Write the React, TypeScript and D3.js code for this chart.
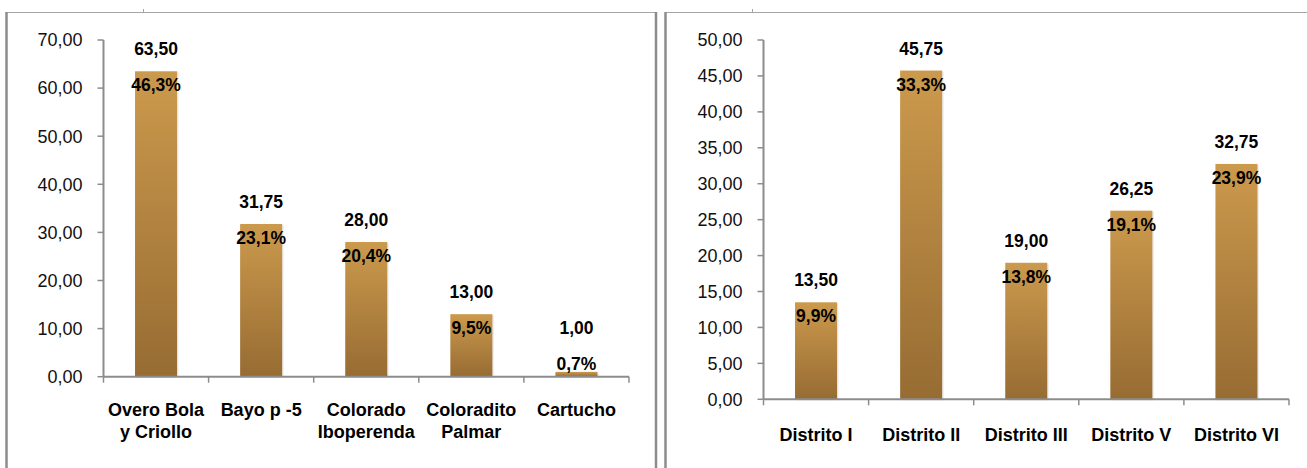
import React from 'react';
import * as d3 from 'd3';

// Left chart: varieties
const varieties = ['Overo Bola\ny Criollo', 'Bayo p -5', 'Colorado\nIboperenda', 'Coloradito\nPalmar', 'Cartucho'];
const varietyValues = [63.5, 31.75, 28.0, 13.0, 1.0];
const varietyShares = [46.3, 23.1, 20.4, 9.5, 0.7];
const varietyTicks = [0, 10, 20, 30, 40, 50, 60, 70];

// Right chart: districts
const districts = ['Distrito I', 'Distrito II', 'Distrito III', 'Distrito V', 'Distrito VI'];
const districtValues = [13.5, 45.75, 19.0, 26.25, 32.75];
const districtShares = [9.9, 33.3, 13.8, 19.1, 23.9];
const districtTicks = [0, 5, 10, 15, 20, 25, 30, 35, 40, 45, 50];

const fmt2 = (v: number) => v.toFixed(2).replace('.', ',');
const fmt1 = (v: number) => v.toFixed(1).replace('.', ',') + '%';

const AXIS = '#8c8c8c';
const FONT = '"Liberation Sans", Arial, sans-serif';

interface PanelProps {
  cats: string[];
  values: number[];
  shares: number[];
  ticks: number[];
  x0: number;
  x1: number;
  y0: number;
  y1: number;
  labelY: number;
}

const Panel: React.FC<PanelProps> = ({ cats, values, shares, ticks, x0, x1, y0, y1, labelY }) => {
  const x = d3.scaleBand<string>().domain(cats).range([x0, x1]);
  const y = d3.scaleLinear().domain([0, d3.max(ticks) || 0]).range([y0, y1]);
  const barW = x.step() * 0.4;

  return (
    <g>
      {/* bars */}
      {cats.map((c, i) => {
        const cx = (x(c) || 0) + x.bandwidth() / 2;
        const top = y(values[i]);
        const pctY = Math.min(top + 20, y0 - 7);
        return (
          <g key={c}>
            <rect x={cx - barW / 2 + 1.5} y={top + 1} width={barW} height={y0 - top} fill="#000" opacity={0.08} />
            <rect x={cx - barW / 2} y={top} width={barW} height={y0 - top} fill="url(#barGrad)" />
            <text x={cx} y={pctY - 36} textAnchor="middle" fontFamily={FONT} fontWeight="bold" fontSize={17.5} fill="#000">
              {fmt2(values[i])}
            </text>
            <text x={cx} y={pctY} textAnchor="middle" fontFamily={FONT} fontWeight="bold" fontSize={17.5} fill="#000">
              {fmt1(shares[i])}
            </text>
          </g>
        );
      })}

      {/* y axis */}
      <line x1={x0} x2={x0} y1={y1} y2={y0} stroke={AXIS} strokeWidth={2} />
      {ticks.map(t => (
        <g key={t}>
          <line x1={x0 - 6} x2={x0} y1={y(t)} y2={y(t)} stroke={AXIS} strokeWidth={1.5} />
          <text x={x0 - 21} y={y(t)} dy="0.35em" textAnchor="end" fontFamily={FONT} fontSize={18} fill="#111">
            {fmt2(t)}
          </text>
        </g>
      ))}

      {/* x axis */}
      <line x1={x0} x2={x1} y1={y0} y2={y0} stroke={AXIS} strokeWidth={2} />
      {[...cats.map(c => x(c) || 0), x1].map((t, i) => (
        <line key={i} x1={t} x2={t} y1={y0} y2={y0 + 6} stroke={AXIS} strokeWidth={1.5} />
      ))}
      {cats.map(c => {
        const cx = (x(c) || 0) + x.bandwidth() / 2;
        return (
          <text key={c} x={cx} y={labelY} textAnchor="middle" fontFamily={FONT} fontWeight="bold" fontSize={18} fill="#000">
            {c.split('\n').map((line, j) => (
              <tspan key={j} x={cx} dy={j === 0 ? 0 : 22}>{line}</tspan>
            ))}
          </text>
        );
      })}
    </g>
  );
};

export default function App() {
  const width = 1307;
  const height = 468;
  return (
    <div style={{ position: 'absolute', left: 0, top: 0 }}>
      <svg width={width} height={height} style={{ display: 'block', background: '#fff' }}>
        <defs>
          <linearGradient id="barGrad" x1="0" y1="0" x2="0" y2="1">
            <stop offset="0%" stopColor="#cc9a4d" />
            <stop offset="100%" stopColor="#976c33" />
          </linearGradient>
        </defs>

        {/* frame lines */}
        <line x1={6} x2={656} y1={12.5} y2={12.5} stroke="#a6a6a6" strokeWidth={1} />
        <line x1={665} x2={width} y1={12.5} y2={12.5} stroke="#a6a6a6" strokeWidth={1} />
        <line x1={143.5} x2={143.5} y1={9} y2={12} stroke="#a6a6a6" strokeWidth={1} />
        <line x1={752.5} x2={752.5} y1={9} y2={12} stroke="#a6a6a6" strokeWidth={1} />
        <line x1={6.5} x2={6.5} y1={12} y2={height} stroke="#8c8c8c" strokeWidth={2.5} />
        <line x1={656} x2={656} y1={12} y2={height} stroke="#8c8c8c" strokeWidth={2.5} />
        <line x1={665.5} x2={665.5} y1={12} y2={height} stroke="#8c8c8c" strokeWidth={2.5} />

        <Panel cats={varieties} values={varietyValues} shares={varietyShares} ticks={varietyTicks}
          x0={103.5} x1={629} y0={376.7} y1={40} labelY={416} />
        <Panel cats={districts} values={districtValues} shares={districtShares} ticks={districtTicks}
          x0={763.5} x1={1289} y0={399.3} y1={40} labelY={441} />
      </svg>
    </div>
  );
}
